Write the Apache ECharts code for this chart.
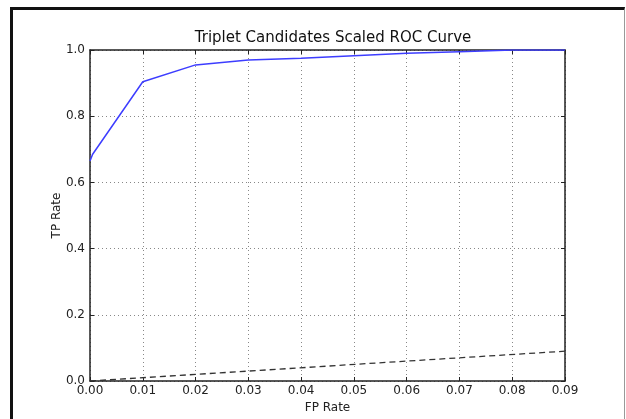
<!DOCTYPE html>
<html>
<head>
<meta charset="utf-8">
<script src="https://cdn.jsdelivr.net/npm/echarts@6/dist/echarts.min.js"></script>
<style>
  html, body { margin: 0; padding: 0; background: #fff; overflow: hidden; }
  #chart { position: absolute; left: 0; top: 0; width: 626px; height: 419px; }
  #frame {
    position: absolute; left: 10px; top: 7px; width: 611px; height: 412px;
    border-top: 3px solid #111; border-left: 3px solid #111; border-right: 1px solid #999;
    pointer-events: none;
  }
</style>
</head>
<body>
<div id="chart"></div>
<div id="frame"></div>
<script>
const fpRate = [0, 0.0005, 0.01, 0.02, 0.03, 0.04, 0.05, 0.06, 0.07, 0.08, 0.09];
const tpRate = [0.665, 0.685, 0.904, 0.955, 0.970, 0.975, 0.983, 0.990, 0.995, 1.0, 1.0];
const chanceFp = [0, 0.09];
const chanceTp = [0, 0.09];

const font = "DejaVu Sans";
const chart = echarts.init(document.getElementById("chart"));

const gridLine = { show: true, lineStyle: { color: "#888", type: [1, 3], width: 1 } };
const frameLine = { show: true, onZero: false, lineStyle: { color: "#222", width: 1.5 } };
const innerTick = { show: true, inside: true, length: 4, lineStyle: { color: "#222" } };

chart.setOption({
  animation: false,
  title: {
    text: "Triplet Candidates Scaled ROC Curve",
    left: 328,
    textAlign: "center",
    top: 26,
    textStyle: { fontFamily: font, fontSize: 15, fontWeight: "normal", color: "#111" },
  },
  grid: { left: 90, right: 61, top: 50, bottom: 38 },
  xAxis: [
    {
      type: "value",
      min: 0,
      max: 0.09,
      interval: 0.01,
      name: "FP Rate",
      nameLocation: "middle",
      nameGap: 18,
      nameTextStyle: { fontFamily: font, fontSize: 12, color: "#222" },
      axisLine: frameLine,
      axisTick: innerTick,
      splitLine: gridLine,
      axisLabel: { fontFamily: font, fontSize: 12, color: "#222", margin: 4, formatter: (v) => v.toFixed(2) },
    },
    {
      type: "value",
      position: "top",
      min: 0,
      max: 0.09,
      interval: 0.01,
      axisLine: frameLine,
      axisTick: innerTick,
      splitLine: { show: false },
      axisLabel: { show: false },
    },
  ],
  yAxis: [
    {
      type: "value",
      min: 0,
      max: 1,
      interval: 0.2,
      name: "TP Rate",
      nameLocation: "middle",
      nameGap: 27,
      nameMoveOverlap: false,
      nameTextStyle: { fontFamily: font, fontSize: 12, color: "#222" },
      axisLine: frameLine,
      axisTick: innerTick,
      splitLine: gridLine,
      axisLabel: { fontFamily: font, fontSize: 12, color: "#222", margin: 5, formatter: (v) => v.toFixed(1) },
    },
    {
      type: "value",
      position: "right",
      min: 0,
      max: 1,
      interval: 0.2,
      axisLine: frameLine,
      axisTick: innerTick,
      splitLine: { show: false },
      axisLabel: { show: false },
    },
  ],
  series: [
    {
      name: "ROC",
      type: "line",
      data: fpRate.map((x, i) => [x, tpRate[i]]),
      symbol: "none",
      lineStyle: { color: "#3d3dff", width: 1.5 },
      z: 3,
    },
    {
      name: "Chance",
      type: "line",
      data: chanceFp.map((x, i) => [x, chanceTp[i]]),
      symbol: "none",
      lineStyle: { color: "#333", width: 1.3, type: [6, 4] },
      z: 2,
    },
  ],
});
</script>
</body>
</html>
